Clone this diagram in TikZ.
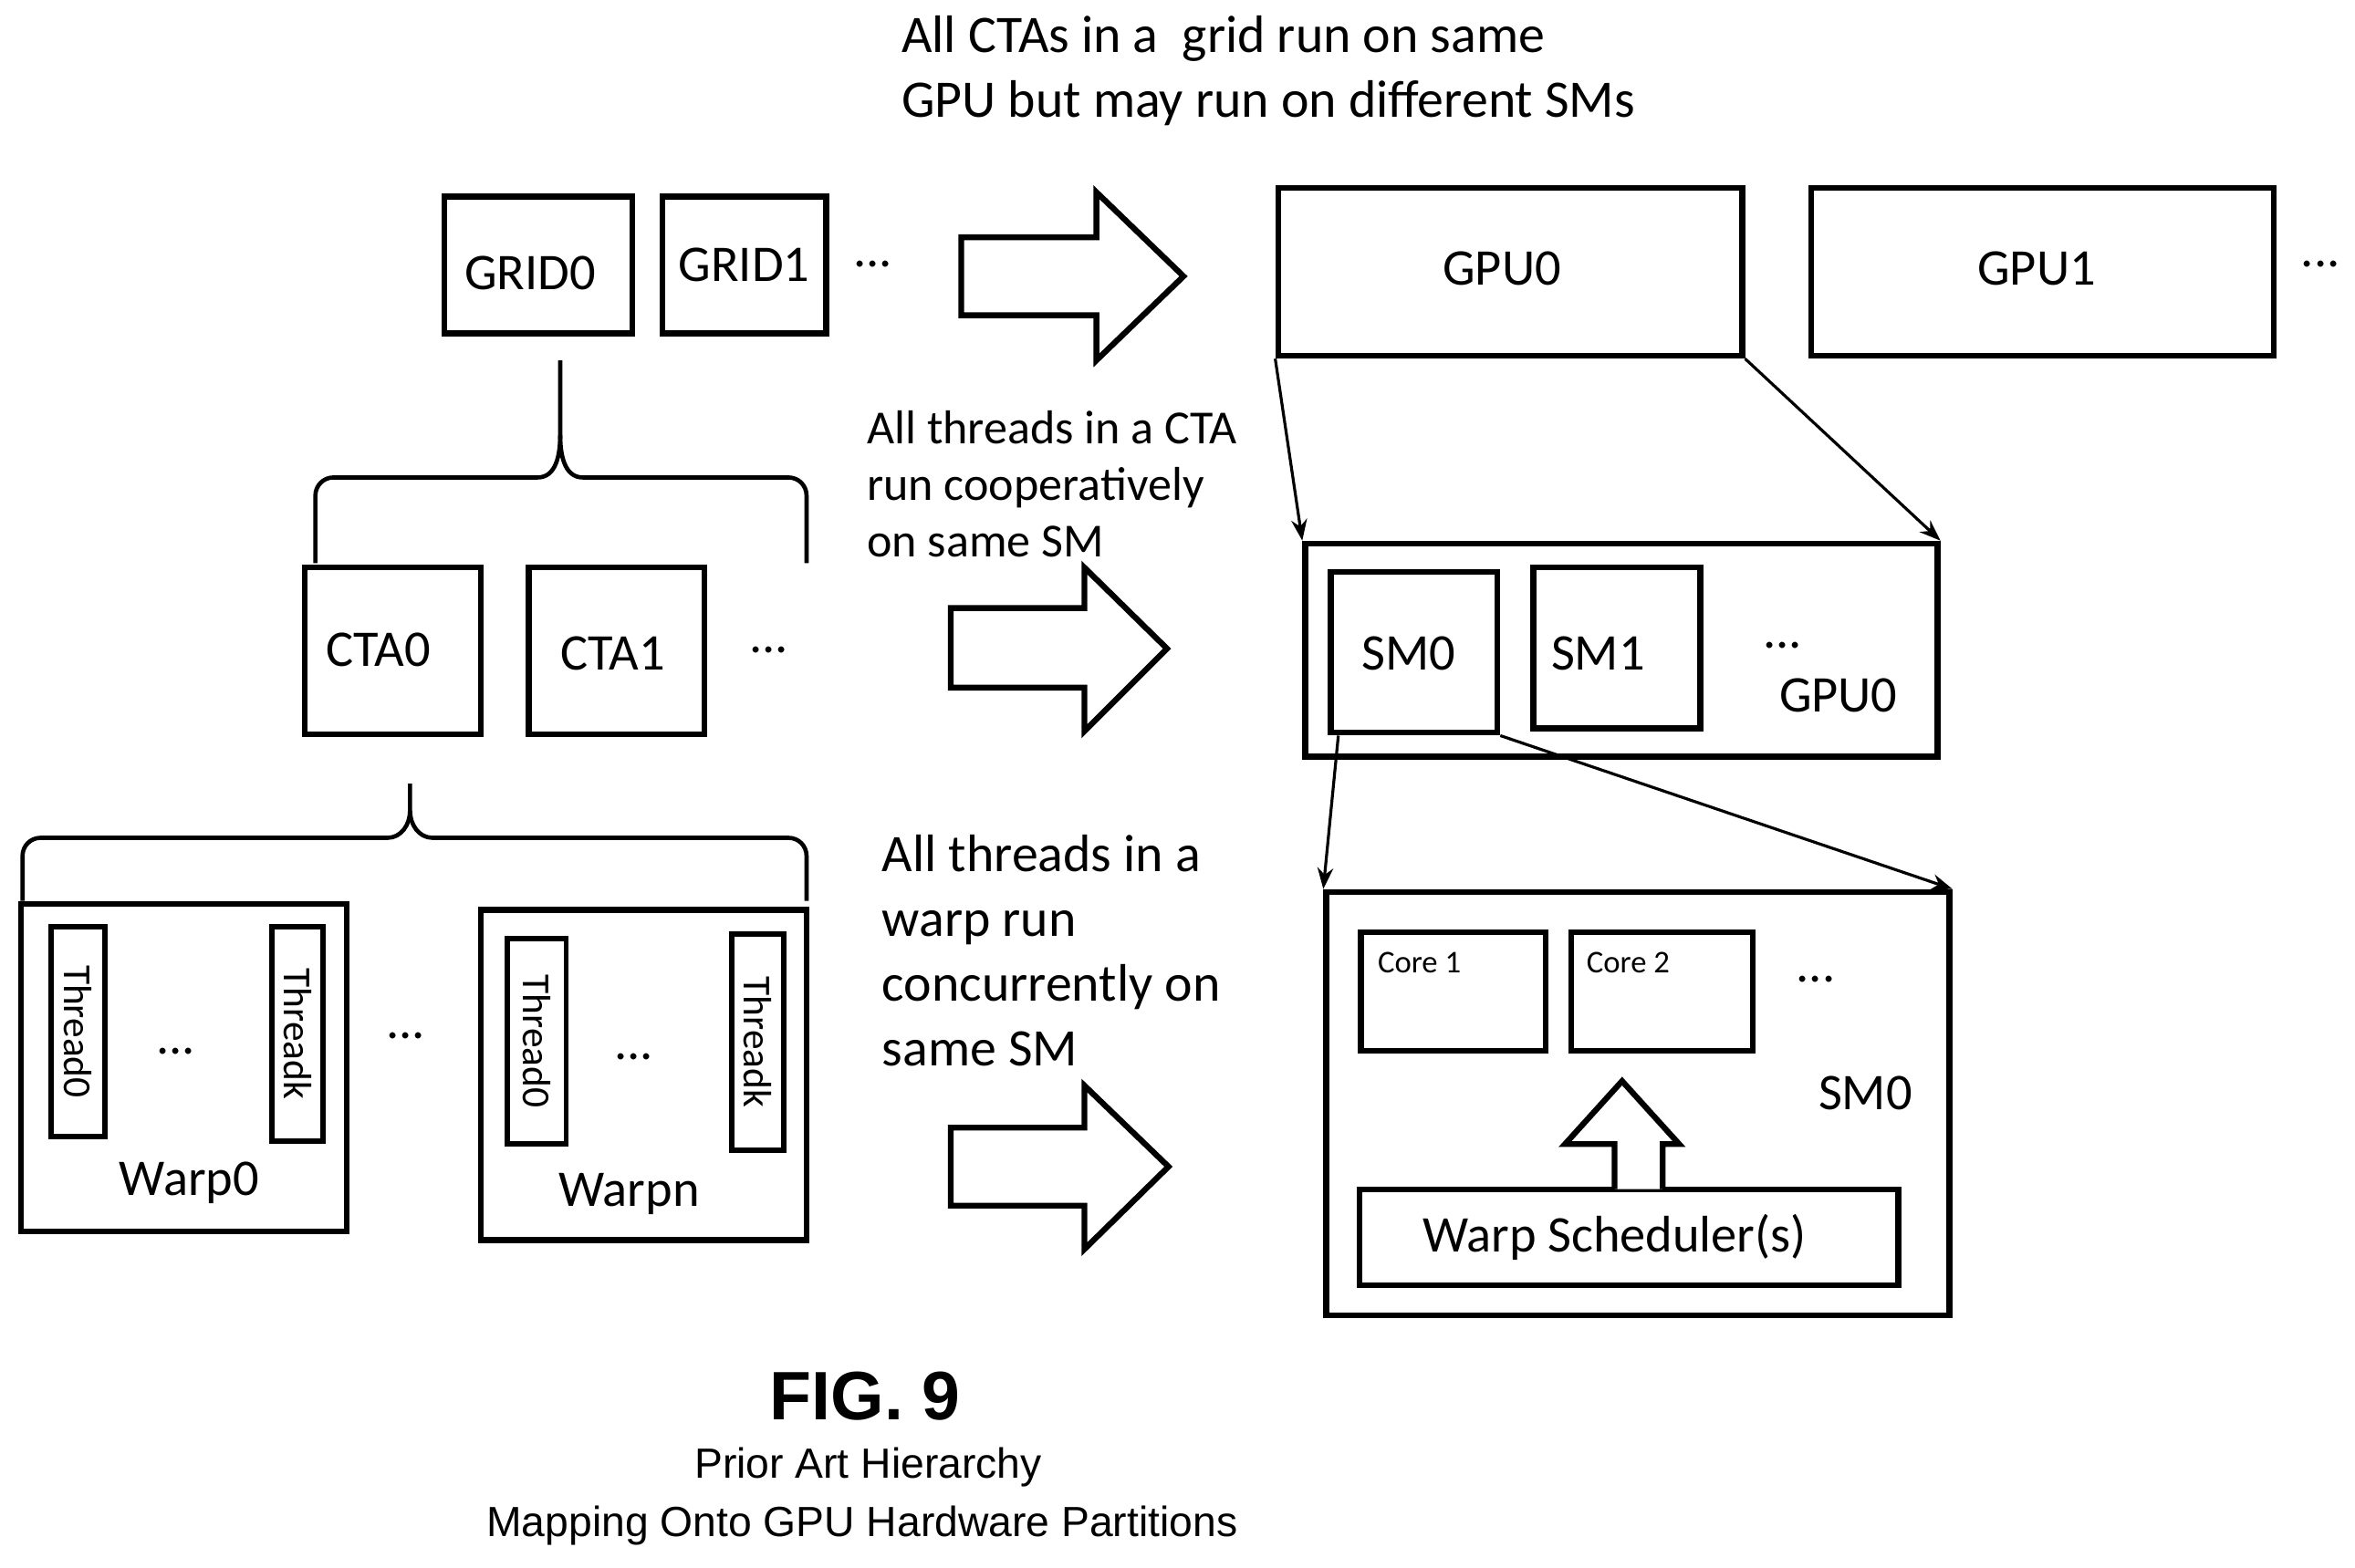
\documentclass[tikz,border=0pt]{standalone}
\usepackage{fontspec}
\usetikzlibrary{arrows.meta}
\setmainfont{Carlito}
\newfontfamily\arialf{Liberation Sans}
\begin{document}
\begin{tikzpicture}[x=0.02cm,y=-0.02cm,
  box/.style={draw,line width=2.2pt,inner sep=0pt},
  tbox/.style={draw,line width=2pt,inner sep=0pt},
  lbl/.style={font=\fontsize{19.5}{23}\selectfont},
  note/.style={font=\fontsize{20}{24.5}\selectfont,align=left,anchor=north west,inner sep=0pt},
  conn/.style={line width=1.1pt,-{Stealth[length=8pt,width=6pt]}},
  blk/.style={draw,line width=2.2pt,fill=white,line join=miter},
  brace/.style={line width=1.6pt}]
\useasboundingbox (0,0) rectangle (1568,1044);
% top text
\node[note] (t1) at (600,10) {All CTAs in a \ grid run on same\\GPU but may run on different SMs};
% grids
\node[box,minimum width=125*0.02cm,minimum height=91*0.02cm] (g0) at (358.5,176.5) {};
\node[lbl] at (353,182) {GRID0};
\node[box,minimum width=109*0.02cm,minimum height=91*0.02cm] (g1) at (495.5,176.5) {};
\node[lbl] at (g1) {GRID1};
\node[lbl] (gd) at (581,176) {...};
% arrow 1
\draw[blk] (640,158) -- (730,158) -- (730,128) -- (788,184) -- (730,240) -- (730,210) -- (640,210) -- cycle;
% GPUs
\node[box,minimum width=309*0.02cm,minimum height=112*0.02cm] (gpu0) at (1005.5,181) {};
\node[lbl] at (1000,179) {GPU0};
\node[box,minimum width=308*0.02cm,minimum height=112*0.02cm] (gpu1) at (1360,181) {};
\node[lbl] at (1356,179) {GPU1};
\node[lbl] (gpud) at (1545,176) {...};
% brace 1
\draw[brace] (210,375) -- (210,330) to[out=90,in=180] (222,318) -- (358,318) to[out=0,in=-90] (373,290) -- (373,240);
\draw[brace] (537,375) -- (537,330) to[out=90,in=0] (525,318) -- (388,318) to[out=180,in=-90] (373,290);
% CTAs
\node[box,minimum width=117*0.02cm,minimum height=111*0.02cm] (c0) at (261.5,433.5) {};
\node[lbl] at (252,433) {CTA0};
\node[box,minimum width=117*0.02cm,minimum height=111*0.02cm] (c1) at (410.5,433.5) {};
\node[lbl] at (408,435) {CTA1};
\node[lbl] (cd) at (512,433) {...};
\node[note,font=\fontsize{18}{21.5}\selectfont] (t2) at (577,273) {All threads in a CTA\\run cooperatively\\on same SM};
% arrow 2
\draw[blk] (633,405) -- (722,405) -- (722,378) -- (777,432) -- (722,487) -- (722,458) -- (633,458) -- cycle;
% GPU0 container
\node[box,minimum width=421*0.02cm,minimum height=142*0.02cm] (gc) at (1079.5,433) {};
\node[box,minimum width=111*0.02cm,minimum height=107*0.02cm] (sm0) at (941.5,434.5) {};
\node[lbl] at (938,435) {SM0};
\node[box,minimum width=111*0.02cm,minimum height=107*0.02cm] (sm1) at (1076.5,431.5) {};
\node[lbl] at (1064,435) {SM1};
\node[lbl] (gcd) at (1187,430) {...};
\node[lbl] (gcl) at (1224,463) {GPU0};
\draw[conn] (gpu0.south west) -- (gc.north west);
\draw[conn] (gpu0.south east) -- (gc.north east);
% brace 2
\draw[brace] (15,600) -- (15,570) to[out=90,in=180] (27,558) -- (258,558) to[out=0,in=-90] (273,540) -- (273,522);
\draw[brace] (537,600) -- (537,570) to[out=90,in=0] (525,558) -- (288,558) to[out=180,in=-90] (273,540);
% Warp0
\node[box,minimum width=217*0.02cm,minimum height=218*0.02cm] (w0) at (122.5,711) {};
\node[tbox,minimum width=36*0.02cm,minimum height=140*0.02cm] (w0t0) at (52,687) {};
\node[rotate=-90,font=\fontsize{15}{18}\selectfont] at (w0t0) {Thread0};
\node[tbox,minimum width=34*0.02cm,minimum height=143*0.02cm] (w0tk) at (198,688.5) {};
\node[rotate=-90,font=\fontsize{15}{18}\selectfont] at (w0tk) {Threadk};
\node[lbl] (w0d) at (117,700) {...};
\node[lbl] (w0l) at (126,788) {Warp0};
\node[lbl] (wd) at (270,690) {...};
% Warpn
\node[box,minimum width=217*0.02cm,minimum height=220*0.02cm] (wn) at (428.5,716) {};
\node[tbox,minimum width=39*0.02cm,minimum height=137*0.02cm] (wnt0) at (357.5,693.5) {};
\node[rotate=-90,font=\fontsize{15}{18}\selectfont] at (wnt0) {Thread0};
\node[tbox,minimum width=35*0.02cm,minimum height=144*0.02cm] (wntk) at (504.5,694) {};
\node[rotate=-90,font=\fontsize{15}{18}\selectfont] at (wntk) {Threadk};
\node[lbl] (wnd) at (422,704) {...};
\node[lbl] (wnl) at (419,795) {Warpn};
\node[note] (t3) at (587,556) {All threads in a\\warp run\\concurrently on\\same SM};
% arrow 3
\draw[blk] (633,751) -- (722,751) -- (722,723) -- (778,777) -- (722,832) -- (722,803) -- (633,803) -- cycle;
% SM0 big
\node[box,minimum width=415*0.02cm,minimum height=282*0.02cm] (smb) at (1090.5,735) {};
\node[box,minimum width=123*0.02cm,minimum height=79*0.02cm] (core1) at (967.5,660.5) {};
\node[font=\fontsize{12}{14}\selectfont,anchor=north west,inner sep=0pt] at (917,634) {Core 1};
\node[box,minimum width=121*0.02cm,minimum height=79*0.02cm] (core2) at (1106.5,660.5) {};
\node[font=\fontsize{12}{14}\selectfont,anchor=north west,inner sep=0pt] at (1056,634) {Core 2};
\node[lbl] (smd) at (1209,652) {...};
\node[lbl] (sml) at (1242,728) {SM0};
\node[box,minimum width=359*0.02cm,minimum height=64*0.02cm] (ws) at (1084.5,824) {};
\node[lbl] at (1075,824) {Warp Scheduler(s)};
\draw[blk] (1075,792) -- (1075,762) -- (1042,762) -- (1080,720) -- (1118,762) -- (1107,762) -- (1107,792);
\draw[conn] (sm0.south west) ++(7,0) -- (smb.north west);
\draw[conn] (sm0.south east) -- (smb.north east);
% caption
\node[font=\arialf\bfseries\fontsize{26}{30}\selectfont] (fig) at (576,930) {FIG. 9};
\node[font=\arialf\fontsize{16}{19}\selectfont] (cap1) at (578,977) {Prior Art Hierarchy};
\node[font=\arialf\fontsize{16}{19}\selectfont] (cap2) at (574,1016) {Mapping Onto GPU Hardware Partitions};
\end{tikzpicture}
\end{document}
